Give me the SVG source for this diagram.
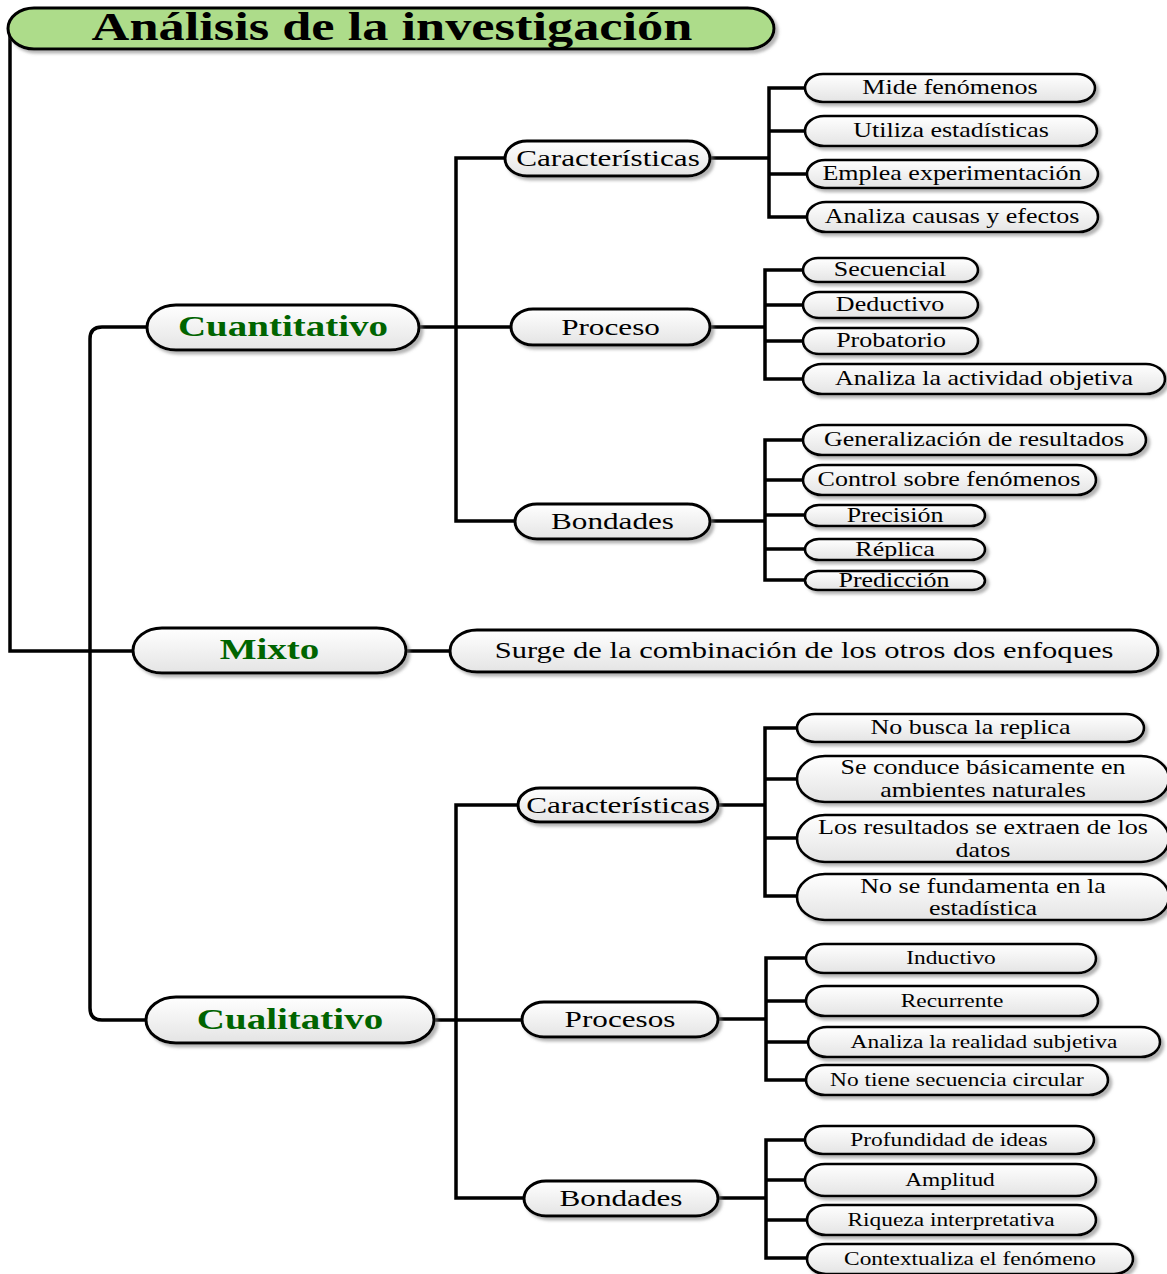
<svg xmlns="http://www.w3.org/2000/svg" width="1167" height="1274" viewBox="0 0 1167 1274">
  <defs>
    <linearGradient id="pg" x1="0" y1="0" x2="0" y2="1">
      <stop offset="0" stop-color="#ffffff"/>
      <stop offset="1" stop-color="#e4e4e4"/>
    </linearGradient>
    <filter id="sh" x="-5%" y="-20%" width="115%" height="160%">
      <feDropShadow dx="3" dy="3" stdDeviation="1.5" flood-color="#777" flood-opacity="0.55"/>
    </filter>
  </defs>
  <style>
    .pill { fill: url(#pg); stroke: #000; stroke-width: 3; filter: url(#sh); }
    .leaf { stroke-width: 2.6; }
    .title { fill: #addc8a; stroke: #000; stroke-width: 3; filter: url(#sh); }
    .ln { fill: none; stroke: #000; stroke-width: 3.5; stroke-linejoin: miter; }
    text { font-family: "Liberation Serif", "Times New Roman", serif; text-anchor: middle; fill: #000; }
    .t40 { font-size: 40.3px; font-weight: bold; }
    .main { font-size: 30px; font-weight: bold; fill: #006400; }
    .mid { font-size: 24px; }
    .t23 { font-size: 23.5px; }
    .t20 { font-size: 20px; }
    .t18 { font-size: 18px; }
  </style>

  <!-- connectors -->
  <g id="connectors">
    <path class="ln" d="M10,30 V651 H133"/>
    <path class="ln" d="M147,327 H102 Q90,327 90,339 V1008 Q90,1020 102,1020 H146"/>
    <path class="ln" d="M406,651 H450"/>
    <path class="ln" d="M419,327 H511"/>
    <path class="ln" d="M505,158 H456 V521 H515"/>
    <path class="ln" d="M710,158 H769"/>
    <path class="ln" d="M805,88 H769 V217 H807"/>
    <path class="ln" d="M769,131 H805 M769,174 H807"/>
    <path class="ln" d="M710,327 H765"/>
    <path class="ln" d="M803,270 H765 V379 H803"/>
    <path class="ln" d="M765,305 H803 M765,341 H803"/>
    <path class="ln" d="M710,521 H765"/>
    <path class="ln" d="M803,440 H765 V580 H805"/>
    <path class="ln" d="M765,480 H803 M765,515 H805 M765,549 H805"/>
    <path class="ln" d="M434,1020 H522"/>
    <path class="ln" d="M518,805 H456 V1198 H524"/>
    <path class="ln" d="M718,805 H765"/>
    <path class="ln" d="M797,728 H765 V896 H797"/>
    <path class="ln" d="M765,779 H797 M765,838 H797"/>
    <path class="ln" d="M718,1019 H766"/>
    <path class="ln" d="M806,958 H766 V1080 H806"/>
    <path class="ln" d="M766,1001 H806 M766,1042 H808"/>
    <path class="ln" d="M718,1198 H766"/>
    <path class="ln" d="M805,1140 H766 V1258 H807"/>
    <path class="ln" d="M766,1180 H805 M766,1220 H807"/>
  </g>

  <!-- title -->
  <g id="titulo">
    <rect class="title" x="8" y="8" width="766" height="41" rx="26" ry="20.5"/>
    <text class="t40" transform="translate(392 40) scale(1.3 1)">Análisis de la investigación</text>
  </g>

  <!-- main branches -->
  <g id="cuantitativo">
    <rect class="pill" x="147" y="305" width="272" height="45" rx="29" ry="22.5"/>
    <text class="main" transform="translate(283 336) scale(1.3 1)">Cuantitativo</text>
  </g>
  <g id="mixto">
    <rect class="pill" x="133" y="628" width="273" height="45" rx="29" ry="22.5"/>
    <text class="main" transform="translate(269.5 659) scale(1.3 1)">Mixto</text>
  </g>
  <g id="mixto-desc">
    <rect class="pill" x="450" y="630" width="708" height="42" rx="27" ry="21"/>
    <text class="t23" transform="translate(804 658) scale(1.3 1)">Surge de la combinación de los otros dos enfoques</text>
  </g>
  <g id="cualitativo">
    <rect class="pill" x="146" y="997" width="288" height="46" rx="30" ry="23"/>
    <text class="main" transform="translate(290 1029) scale(1.3 1)">Cualitativo</text>
  </g>

  <!-- second level -->
  <g id="cuanti-caracteristicas">
    <rect class="pill" x="505" y="141" width="205" height="35" rx="22" ry="17.5"/>
    <text class="mid" transform="translate(608 166) scale(1.3 1)">Características</text>
  </g>
  <g id="cuanti-proceso">
    <rect class="pill" x="511" y="309" width="199" height="36" rx="22" ry="18"/>
    <text class="mid" transform="translate(610.5 335) scale(1.3 1)">Proceso</text>
  </g>
  <g id="cuanti-bondades">
    <rect class="pill" x="515" y="504" width="195" height="35" rx="22" ry="17.5"/>
    <text class="mid" transform="translate(612.5 529) scale(1.3 1)">Bondades</text>
  </g>
  <g id="cuali-caracteristicas">
    <rect class="pill" x="518" y="788" width="200" height="34" rx="22" ry="17"/>
    <text class="mid" transform="translate(618 813) scale(1.3 1)">Características</text>
  </g>
  <g id="cuali-procesos">
    <rect class="pill" x="522" y="1002" width="196" height="35" rx="22" ry="17.5"/>
    <text class="mid" transform="translate(620 1027) scale(1.3 1)">Procesos</text>
  </g>
  <g id="cuali-bondades">
    <rect class="pill" x="524" y="1181" width="194" height="35" rx="22" ry="17.5"/>
    <text class="mid" transform="translate(621 1206) scale(1.3 1)">Bondades</text>
  </g>

  <!-- leaves: cuantitativo / características -->
  <g id="mide">
    <rect class="pill leaf" x="805" y="74" width="290" height="28" rx="18" ry="14"/>
    <text class="t20" transform="translate(950 94) scale(1.3 1)">Mide fenómenos</text>
  </g>
  <g id="utiliza">
    <rect class="pill leaf" x="805" y="116" width="292" height="30" rx="19" ry="15"/>
    <text class="t20" transform="translate(951 137) scale(1.3 1)">Utiliza estadísticas</text>
  </g>
  <g id="emplea">
    <rect class="pill leaf" x="807" y="160" width="291" height="28" rx="18" ry="14"/>
    <text class="t20" transform="translate(952 180) scale(1.3 1)">Emplea experimentación</text>
  </g>
  <g id="analiza-causas">
    <rect class="pill leaf" x="807" y="202" width="291" height="30" rx="19" ry="15"/>
    <text class="t20" transform="translate(952 223) scale(1.3 1)">Analiza causas y efectos</text>
  </g>

  <!-- leaves: cuantitativo / proceso -->
  <g id="secuencial">
    <rect class="pill leaf" x="803" y="258" width="175" height="24" rx="15" ry="12"/>
    <text class="t20" transform="translate(890 276) scale(1.3 1)">Secuencial</text>
  </g>
  <g id="deductivo">
    <rect class="pill leaf" x="803" y="292" width="175" height="26" rx="16" ry="13"/>
    <text class="t20" transform="translate(890 311) scale(1.3 1)">Deductivo</text>
  </g>
  <g id="probatorio">
    <rect class="pill leaf" x="803" y="328" width="175" height="26" rx="16" ry="13"/>
    <text class="t20" transform="translate(891 347) scale(1.3 1)">Probatorio</text>
  </g>
  <g id="analiza-actividad">
    <rect class="pill leaf" x="803" y="364" width="362" height="30" rx="19" ry="15"/>
    <text class="t20" transform="translate(984 385) scale(1.3 1)">Analiza la actividad objetiva</text>
  </g>

  <!-- leaves: cuantitativo / bondades -->
  <g id="generalizacion">
    <rect class="pill leaf" x="803" y="425" width="343" height="30" rx="19" ry="15"/>
    <text class="t20" transform="translate(974 446) scale(1.3 1)">Generalización de resultados</text>
  </g>
  <g id="control">
    <rect class="pill leaf" x="803" y="465" width="293" height="30" rx="19" ry="15"/>
    <text class="t20" transform="translate(949 486) scale(1.3 1)">Control sobre fenómenos</text>
  </g>
  <g id="precision">
    <rect class="pill leaf" x="805" y="505" width="180" height="21" rx="14" ry="10.5"/>
    <text class="t20" transform="translate(895 522) scale(1.3 1)">Precisión</text>
  </g>
  <g id="replica">
    <rect class="pill leaf" x="805" y="539" width="180" height="21" rx="14" ry="10.5"/>
    <text class="t20" transform="translate(895 556) scale(1.3 1)">Réplica</text>
  </g>
  <g id="prediccion">
    <rect class="pill leaf" x="805" y="571" width="180" height="19" rx="13" ry="9.5"/>
    <text class="t20" transform="translate(894 587) scale(1.3 1)">Predicción</text>
  </g>

  <!-- leaves: cualitativo / características -->
  <g id="no-busca">
    <rect class="pill leaf" x="797" y="714" width="347" height="28" rx="18" ry="14"/>
    <text class="t20" transform="translate(970.5 734) scale(1.3 1)">No busca la replica</text>
  </g>
  <g id="se-conduce">
    <rect class="pill leaf" x="797" y="756" width="372" height="46" rx="28" ry="23"/>
    <text class="t20" transform="translate(983 774) scale(1.3 1)">Se conduce básicamente en</text>
    <text class="t20" transform="translate(983 797) scale(1.3 1)">ambientes naturales</text>
  </g>
  <g id="los-resultados">
    <rect class="pill leaf" x="797" y="815" width="372" height="47" rx="28" ry="23.5"/>
    <text class="t20" transform="translate(983 834) scale(1.3 1)">Los resultados se extraen de los</text>
    <text class="t20" transform="translate(983 857) scale(1.3 1)">datos</text>
  </g>
  <g id="no-fundamenta">
    <rect class="pill leaf" x="797" y="874" width="372" height="46" rx="28" ry="23"/>
    <text class="t20" transform="translate(983 893) scale(1.3 1)">No se fundamenta en la</text>
    <text class="t20" transform="translate(983 915) scale(1.3 1)">estadística</text>
  </g>

  <!-- leaves: cualitativo / procesos -->
  <g id="inductivo">
    <rect class="pill leaf" x="806" y="944" width="290" height="29" rx="18" ry="14.5"/>
    <text class="t18" transform="translate(951 964) scale(1.3 1)">Inductivo</text>
  </g>
  <g id="recurrente">
    <rect class="pill leaf" x="806" y="986" width="292" height="30" rx="19" ry="15"/>
    <text class="t18" transform="translate(952 1007) scale(1.3 1)">Recurrente</text>
  </g>
  <g id="analiza-realidad">
    <rect class="pill leaf" x="808" y="1027" width="352" height="30" rx="19" ry="15"/>
    <text class="t18" transform="translate(984 1048) scale(1.3 1)">Analiza la realidad subjetiva</text>
  </g>
  <g id="no-tiene">
    <rect class="pill leaf" x="806" y="1065" width="302" height="30" rx="19" ry="15"/>
    <text class="t18" transform="translate(957 1086) scale(1.3 1)">No tiene secuencia circular</text>
  </g>

  <!-- leaves: cualitativo / bondades -->
  <g id="profundidad">
    <rect class="pill leaf" x="805" y="1126" width="289" height="28" rx="18" ry="14"/>
    <text class="t18" transform="translate(949 1146) scale(1.3 1)">Profundidad de ideas</text>
  </g>
  <g id="amplitud">
    <rect class="pill leaf" x="805" y="1164" width="291" height="32" rx="20" ry="16"/>
    <text class="t18" transform="translate(950 1186) scale(1.3 1)">Amplitud</text>
  </g>
  <g id="riqueza">
    <rect class="pill leaf" x="807" y="1205" width="289" height="30" rx="19" ry="15"/>
    <text class="t18" transform="translate(951 1226) scale(1.3 1)">Riqueza interpretativa</text>
  </g>
  <g id="contextualiza">
    <rect class="pill leaf" x="807" y="1244" width="326" height="30" rx="19" ry="15"/>
    <text class="t18" transform="translate(970 1265) scale(1.3 1)">Contextualiza el fenómeno</text>
  </g>
</svg>
